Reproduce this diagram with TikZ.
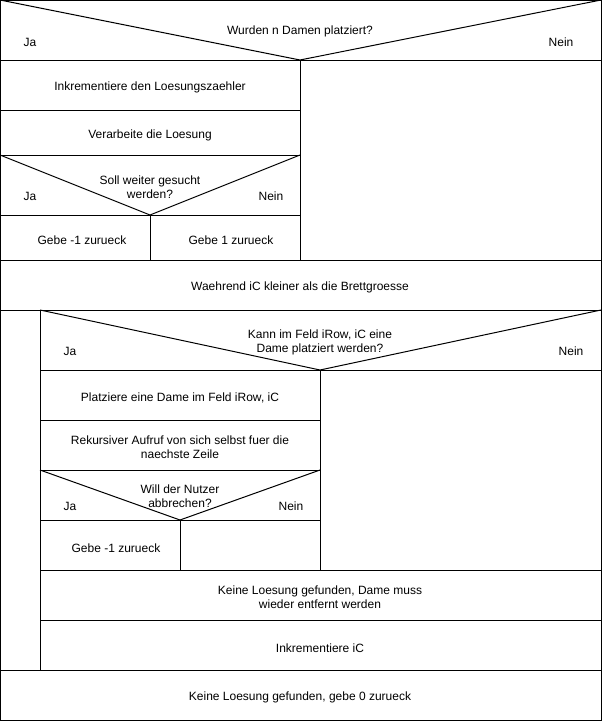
\documentclass[tikz,border=0pt]{standalone}
\usepackage{fontspec}
\setmainfont{Liberation Sans}
\begin{document}
\begin{tikzpicture}[x=0.75pt,y=-0.75pt,line width=0.75pt,
    every node/.style={font=\fontsize{9}{10.5}\selectfont,align=center,inner sep=0pt}]
      \useasboundingbox (0,0) rectangle (602,721);
      \draw (0.5,0.5) rectangle (601.5,720.5);
      \draw
        (300,31) node (q1){Wurden n Damen platziert?}
        (30,42) node (q1ja){Ja}
        (561,42) node (q1nein){Nein}
        (150,87) node (inc){Inkrementiere den Loesungszaehler}
        (150,135) node (verarb){Verarbeite die Loesung}
        (150,187) node (q2){Soll weiter gesucht\\werden?}
        (30,196) node (q2ja){Ja}
        (271,196) node (q2nein){Nein}
        (82,240) node (ret1){Gebe -1 zurueck}
        (231,240) node (ret2){Gebe 1 zurueck}
        (300,287) node (loop){Waehrend iC kleiner als die Brettgroesse}
        (320,342) node (q3){Kann im Feld iRow, iC eine\\Dame platziert werden?}
        (70,351) node (q3ja){Ja}
        (571,351) node (q3nein){Nein}
        (180,398) node (platz){Platziere eine Dame im Feld iRow, iC}
        (180,447) node (rek){Rekursiver Aufruf von sich selbst fuer die\\naechste Zeile}
        (180,496) node (q4){Will der Nutzer\\abbrechen?}
        (70,506) node (q4ja){Ja}
        (291,506) node (q4nein){Nein}
        (116,548) node (ret3){Gebe -1 zurueck}
        (320,597) node (keine){Keine Loesung gefunden, Dame muss\\wieder entfernt werden}
        (320,648) node (incic){Inkrementiere iC}
        (300,697) node (ret4){Keine Loesung gefunden, gebe 0 zurueck};
      \begin{scope}[-]
        % decisions
        \draw (0,0) -- (300,60) -- (601,0);
        \draw (0,155) -- (150,215) -- (300,155);
        \draw (40,310) -- (320,370) -- (601,310);
        \draw (40,470) -- (180,520) -- (320,470);
        % rows
        \draw (0,60) -- (601,60);
        \draw (300,60) -- (300,260);
        \draw (0,110) -- (300,110);
        \draw (0,155) -- (300,155);
        \draw (0,215) -- (300,215);
        \draw (150,215) -- (150,260);
        \draw (0,260) -- (601,260);
        \draw (0,310) -- (601,310);
        \draw (40,310) -- (40,670);
        \draw (40,370) -- (601,370);
        \draw (320,370) -- (320,570);
        \draw (40,420) -- (320,420);
        \draw (40,470) -- (320,470);
        \draw (40,520) -- (320,520);
        \draw (180,520) -- (180,570);
        \draw (40,570) -- (601,570);
        \draw (40,620) -- (601,620);
        \draw (0,670) -- (601,670);
      \end{scope}
    \end{tikzpicture}
\end{document}
